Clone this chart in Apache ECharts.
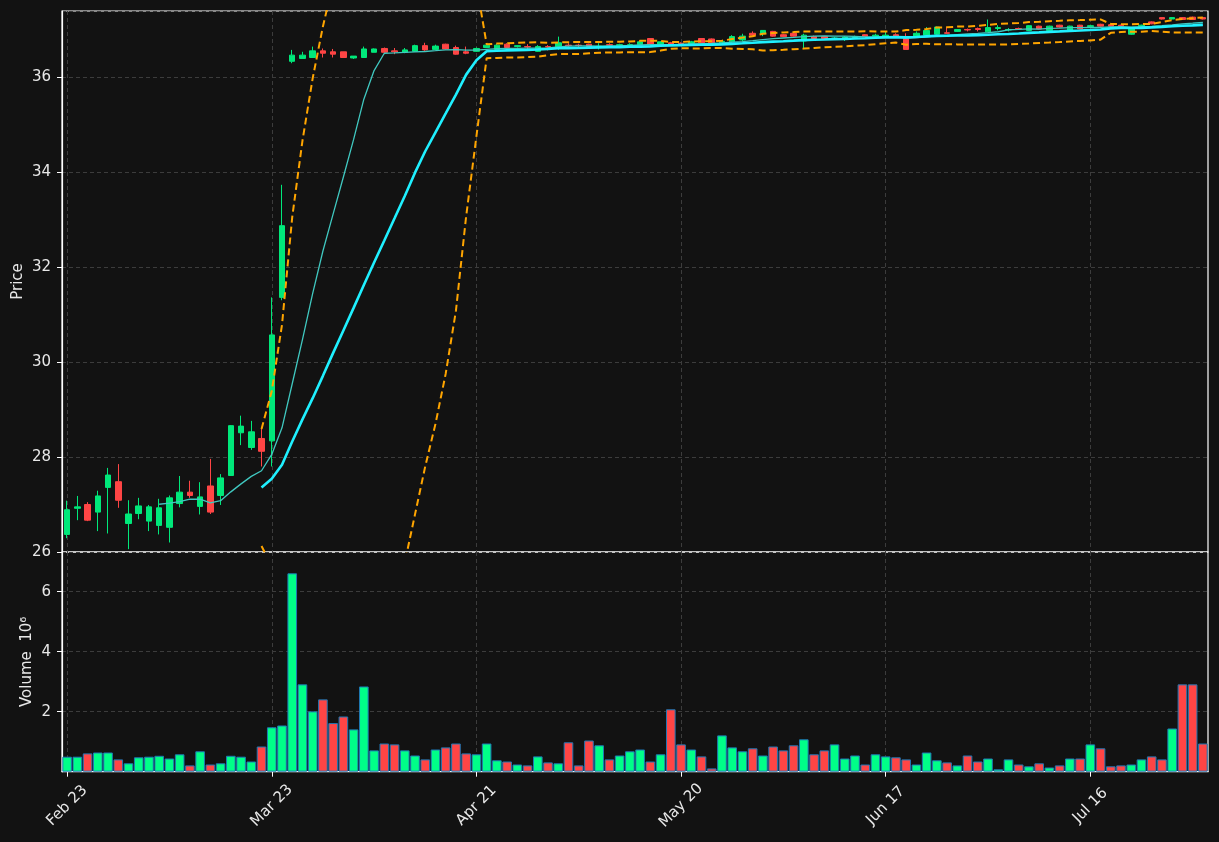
<!DOCTYPE html>
<html><head><meta charset="utf-8">
<script src="https://cdn.jsdelivr.net/npm/echarts@6/dist/echarts.min.js"></script>
<style>html,body{margin:0;padding:0;background:#121212;}#c{width:1219px;height:842px;}</style>
</head><body><div id="c"></div>
<script>
const tickLabels = ['Feb 23','Mar 23','Apr 21','May 20','Jun 17','Jul 16'];
const tickStep = 20;

const opens = [26.37,26.92,27.00,26.84,27.36,27.48,26.60,26.81,26.65,26.56,
 26.52,27.02,27.26,26.96,27.39,27.19,27.61,28.51,28.20,28.39,
 28.34,31.36,36.33,36.39,36.41,36.55,36.53,36.53,36.40,36.41,
 36.52,36.60,36.55,36.52,36.54,36.66,36.58,36.69,36.62,36.53,
 36.54,36.62,36.58,36.69,36.64,36.64,36.54,36.64,36.62,36.67,
 36.67,36.69,36.64,36.68,36.66,36.66,36.68,36.81,36.68,36.72,
 36.71,36.69,36.81,36.80,36.71,36.74,36.78,36.92,36.91,36.96,
 36.89,36.92,36.76,36.85,36.85,36.80,36.81,36.83,36.89,36.86,
 36.86,36.89,36.82,36.86,36.88,36.90,36.93,36.96,37.00,37.02,
 36.95,37.02,36.99,37.02,36.98,37.07,36.98,37.09,36.98,37.09,
 37.06,37.11,37.10,37.09,36.90,37.02,37.16,37.25,37.22,37.25,
 37.26,37.25];
const closes = [26.89,26.95,26.67,27.18,27.62,27.09,26.80,26.97,26.95,26.93,
 27.14,27.26,27.19,27.16,26.84,27.56,28.66,28.65,28.53,28.12,
 30.57,32.87,36.46,36.46,36.55,36.50,36.48,36.41,36.44,36.59,
 36.59,36.52,36.53,36.57,36.66,36.57,36.65,36.59,36.48,36.50,
 36.60,36.67,36.67,36.62,36.66,36.63,36.64,36.63,36.72,36.66,
 36.66,36.64,36.65,36.67,36.68,36.68,36.74,36.68,36.74,36.68,
 36.70,36.74,36.72,36.72,36.75,36.85,36.86,36.88,36.98,36.86,
 36.85,36.86,36.88,36.81,36.81,36.82,36.84,36.85,36.85,36.88,
 36.88,36.85,36.58,36.92,36.98,37.05,36.92,37.00,36.99,37.00,
 37.04,37.04,37.00,37.01,37.08,37.01,37.07,37.05,37.07,37.01,
 37.08,37.07,37.07,37.07,37.01,37.09,37.12,37.22,37.25,37.21,
 37.21,37.22];
const lows = [26.29,26.67,26.65,26.44,26.39,26.93,26.06,26.69,26.44,26.37,
 26.20,26.94,27.14,26.79,26.80,26.99,27.61,28.25,28.15,27.80,
 27.80,31.30,36.29,36.39,36.40,36.41,36.41,36.41,36.38,36.40,
 36.52,36.48,36.48,36.50,36.53,36.55,36.57,36.58,36.47,36.48,
 36.53,36.61,36.57,36.60,36.62,36.55,36.53,36.56,36.57,36.63,
 36.63,36.62,36.58,36.64,36.63,36.64,36.67,36.67,36.67,36.66,
 36.68,36.68,36.71,36.70,36.70,36.72,36.75,36.86,36.86,36.85,
 36.84,36.85,36.61,36.80,36.80,36.78,36.76,36.81,36.84,36.84,
 36.84,36.84,36.58,36.85,36.86,36.89,36.91,36.95,36.96,36.96,
 36.94,36.98,36.96,36.99,36.97,37.00,36.97,37.04,36.97,37.00,
 37.04,37.06,37.06,37.05,36.89,37.01,37.11,37.21,37.21,37.20,
 37.20,37.21];
const highs = [27.08,27.18,27.05,27.29,27.77,27.85,27.09,27.14,26.99,27.12,
 27.19,27.60,27.50,27.47,27.96,27.64,28.67,28.87,28.76,28.59,
 31.36,33.73,36.57,36.53,36.64,36.60,36.59,36.53,36.44,36.64,
 36.60,36.62,36.61,36.61,36.68,36.72,36.68,36.70,36.66,36.64,
 36.62,36.69,36.69,36.71,36.67,36.69,36.67,36.67,36.85,36.71,
 36.70,36.70,36.71,36.71,36.70,36.71,36.75,36.82,36.75,36.74,
 36.73,36.76,36.82,36.81,36.77,36.88,36.91,36.96,36.98,36.97,
 36.90,36.93,36.91,36.87,36.86,36.84,36.86,36.87,36.90,36.91,
 36.95,36.92,36.92,36.96,37.05,37.06,37.05,37.01,37.02,37.04,
 37.21,37.09,37.03,37.04,37.09,37.08,37.08,37.10,37.08,37.10,
 37.10,37.12,37.11,37.10,37.02,37.10,37.17,37.25,37.26,37.26,
 37.27,37.26];
// volume in millions
const volumes = [0.50,0.50,0.61,0.64,0.64,0.41,0.28,0.48,0.50,0.53,
 0.44,0.58,0.21,0.68,0.24,0.28,0.53,0.50,0.34,0.84,
 1.48,1.54,6.61,2.91,2.01,2.41,1.62,1.84,1.41,2.84,
 0.71,0.94,0.91,0.71,0.54,0.41,0.74,0.81,0.94,0.61,
 0.58,0.94,0.38,0.34,0.24,0.21,0.51,0.31,0.28,0.98,
 0.21,1.04,0.88,0.41,0.54,0.68,0.74,0.34,0.58,2.08,
 0.91,0.74,0.51,0.11,1.21,0.81,0.68,0.78,0.54,0.84,
 0.71,0.88,1.08,0.58,0.71,0.91,0.44,0.54,0.24,0.58,
 0.51,0.48,0.41,0.24,0.64,0.38,0.31,0.21,0.54,0.34,
 0.44,0.08,0.41,0.24,0.18,0.28,0.14,0.21,0.44,0.44,
 0.91,0.78,0.18,0.21,0.24,0.41,0.51,0.41,1.44,2.91,
 2.91,0.94];

const UP = '#00e87a', DOWN = '#ff4545', VUP = '#00ff88', VDOWN = '#ff4545';

const cats = closes.map((_, i) => i);
const ohlc = closes.map((c, i) => [opens[i], c, lows[i], highs[i]]);
function rollMean(w) {
  return closes.map((_, i) => {
    if (i < w - 1) return '-';
    let s = 0; for (let k = i - w + 1; k <= i; k++) s += closes[k];
    return s / w;
  });
}
function band(w, mult, sign) {
  const m = rollMean(w);
  return closes.map((_, i) => {
    if (i < w - 1) return '-';
    let v = 0; for (let k = i - w + 1; k <= i; k++) v += (closes[k] - m[i]) ** 2;
    return m[i] + sign * mult * Math.sqrt(v / w);
  });
}
const ma10 = rollMean(10), ma20 = rollMean(20);
const bbUp = band(20, 2, 1), bbLo = band(20, 2, -1);
const volData = volumes.map((v, i) => ({ value: v, itemStyle: { color: closes[i] >= opens[i] ? VUP : VDOWN } }));

const tickSel = (i) => i % tickStep === 0;
const gridLine = { color: '#3c3c3c', type: [4, 3], width: 1 };
const txt = '#e8e8e8';

const chart = echarts.init(document.getElementById('c'));
chart.setOption({
  backgroundColor: '#121212',
  animation: false,
  textStyle: { fontFamily: 'DejaVu Sans' },
  grid: [
    { left: 62, right: 11, top: 11, height: 541, show: true, borderColor: '#ffffff', borderWidth: 1.2, backgroundColor: 'transparent' },
    { left: 62, right: 11, top: 552, height: 219.7, show: true, borderColor: '#ffffff', borderWidth: 1.2, backgroundColor: 'transparent' }
  ],
  xAxis: [
    { type: 'category', gridIndex: 0, data: cats, boundaryGap: true,
      axisLine: { show: false }, axisTick: { show: false }, axisLabel: { show: false },
      splitLine: { show: true, interval: tickSel, alignWithLabel: true, lineStyle: gridLine } },
    { type: 'category', gridIndex: 1, data: cats, boundaryGap: true,
      axisLine: { show: true, lineStyle: { color: '#ffffff', width: 1.2 } },
      axisTick: { show: true, alignWithLabel: true, interval: tickSel, length: 5, lineStyle: { color: '#ffffff' } },
      axisLabel: { interval: tickSel, formatter: (v, i) => tickLabels[i / tickStep], rotate: 45,
        color: txt, fontSize: 15, margin: 34, align: 'center', verticalAlign: 'middle' },
      splitLine: { show: true, interval: tickSel, alignWithLabel: true, lineStyle: gridLine } }
  ],
  yAxis: [
    { type: 'value', gridIndex: 0, min: 26, max: 37.389, interval: 2,
      name: 'Price', nameLocation: 'middle', nameGap: 36, nameMoveOverlap: false,
      nameTextStyle: { color: txt, fontSize: 15 },
      axisLine: { show: true, lineStyle: { color: '#ffffff', width: 1.2 } },
      axisTick: { show: true, length: 5, lineStyle: { color: '#ffffff' } },
      axisLabel: { color: txt, fontSize: 15, margin: 11, showMaxLabel: false },
      splitLine: { show: true, lineStyle: gridLine } },
    { type: 'value', gridIndex: 1, min: 0, max: 7.32, interval: 2,
      name: 'Volume  10\u2076', nameLocation: 'middle', nameGap: 27, nameMoveOverlap: false,
      nameTextStyle: { color: txt, fontSize: 15 },
      axisLine: { show: true, lineStyle: { color: '#ffffff', width: 1.2 } },
      axisTick: { show: true, length: 5, lineStyle: { color: '#ffffff' } },
      axisLabel: { color: txt, fontSize: 15, margin: 11, showMinLabel: false, showMaxLabel: false },
      splitLine: { show: true, lineStyle: gridLine } }
  ],
  series: [
    { type: 'candlestick', xAxisIndex: 0, yAxisIndex: 0, data: ohlc, barWidth: 6,
      itemStyle: { color: UP, color0: DOWN, borderColor: UP, borderColor0: DOWN, borderWidth: 1 } },
    { type: 'line', xAxisIndex: 0, yAxisIndex: 0, data: bbUp, symbol: 'none',
      lineStyle: { color: '#ffa500', width: 2, type: [7, 4] } },
    { type: 'line', xAxisIndex: 0, yAxisIndex: 0, data: bbLo, symbol: 'none',
      lineStyle: { color: '#ffa500', width: 2, type: [7, 4] } },
    { type: 'line', xAxisIndex: 0, yAxisIndex: 0, data: ma10, symbol: 'none',
      lineStyle: { color: '#40c8c0', width: 1.3 } },
    { type: 'line', xAxisIndex: 0, yAxisIndex: 0, data: ma20, symbol: 'none',
      lineStyle: { color: '#1ff0ff', width: 2.6 } },
    { type: 'bar', xAxisIndex: 1, yAxisIndex: 1, data: volData, barWidth: '94%',
      itemStyle: { borderColor: '#1f77b4', borderWidth: 1 } }
  ]
});
</script>
</body></html>
